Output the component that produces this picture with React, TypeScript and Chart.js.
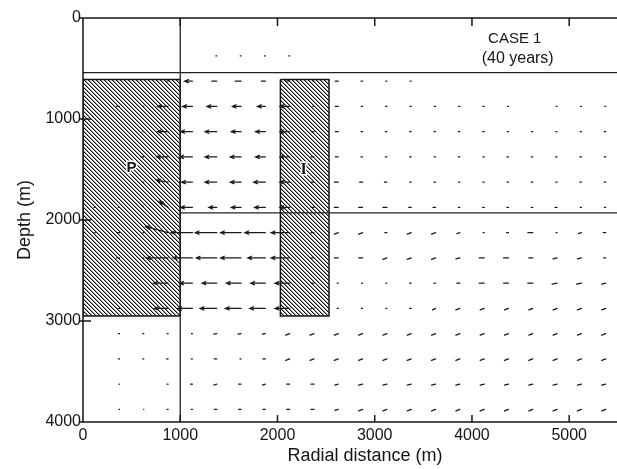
import React, { useEffect, useRef } from 'react';
import { Chart, registerables } from 'chart.js';

Chart.register(...registerables);

// ---- grid of the velocity field (m) ----
const radialCenters = [125, 375, 625, 875, 1125, 1375, 1625, 1875, 2125, 2375, 2625, 2875, 3125, 3375, 3625, 3875, 4125, 4375, 4625, 4875, 5125, 5375];
const depthCenters = [125, 375, 625, 875, 1125, 1375, 1625, 1875, 2125, 2375, 2625, 2875, 3125, 3375, 3625, 3875];

// radial component of each arrow (arrow length in m, negative = toward the producer)
const radialComponent = [
  [0, 0, 0, 0, 0, 0, 0, 0, 0, 0, 0, 0, 0, 0, 0, 0, 0, 0, 0, 0, 0, 0],
  [0, 0, 0, 0, 0, -8, -8, -8, -8, 0, 0, 0, 0, 0, 0, 0, 0, 0, 0, 0, 0, 0],
  [0, 0, 0, -10, -80, -50, -60, -40, -40, -10, -30, -15, -10, -10, 0, 0, 0, 0, 0, 0, 0, 0],
  [0, -30, -10, -110, -100, -100, -90, -80, -100, -10, -30, -12, -12, -12, -12, -12, -12, -8, 0, -8, -8, -8],
  [0, 0, -10, -110, -120, -120, -100, -100, -100, -30, -30, -15, -15, -15, -15, -15, -15, -12, -12, -12, -12, -15],
  [0, 0, -30, -120, -130, -120, -110, -100, -100, -30, -30, -15, -15, -15, -15, -15, -12, -15, -15, -15, -15, -15],
  [0, 0, -15, -120, -110, -120, -110, -120, -100, -30, -40, -30, -25, -15, -15, -12, -12, -15, -15, -12, -15, -15],
  [-10, -10, -20, -90, -120, -80, -100, -110, -100, -30, -40, -40, -40, -25, -25, -15, -15, -15, -15, -20, -12, -12],
  [-10, -30, -8, -230, -220, -220, -210, -210, -190, -30, -40, -40, -20, -40, -40, -30, -10, -20, -50, -10, -30, -25],
  [0, -30, -10, -220, -200, -210, -210, -180, -190, -30, -40, -40, -40, -40, -40, -40, -50, -50, -40, -40, -40, -20],
  [0, -10, 0, -150, -130, -150, -150, -150, -150, -30, -10, -10, -10, -15, -15, -30, -50, -50, -50, -50, -50, -40],
  [0, -10, 0, -140, -150, -170, -160, -160, -150, -30, -10, -10, -10, -15, -30, -40, -40, -40, -40, -40, -40, -40],
  [0, -10, -10, -10, -10, -30, -30, -30, -40, -40, -40, -40, -40, -40, -40, -40, -40, -40, -40, -40, -40, -40],
  [0, -10, -10, -15, -10, -25, -10, -25, -40, -40, -40, -40, -40, -40, -40, -40, -40, -40, -40, -40, -40, -40],
  [0, -5, 0, -10, -20, -30, -25, -30, -30, -30, -35, -40, -40, -40, -40, -40, -40, -40, -40, -40, -40, -40],
  [0, -5, -5, -10, -10, -25, -25, -25, -30, -30, -35, -40, -40, -40, -40, -40, -40, -40, -40, -40, -40, -40],
];

// vertical component of each arrow (m, positive = deeper)
const verticalComponent = [
  [0, 0, 0, 0, 0, 0, 0, 0, 0, 0, 0, 0, 0, 0, 0, 0, 0, 0, 0, 0, 0, 0],
  [0, 0, 0, 0, 0, 0, 0, 0, 0, 0, 0, 0, 0, 0, 0, 0, 0, 0, 0, 0, 0, 0],
  [0, 0, 0, 0, 0, 0, 0, 0, 0, 0, 0, 0, 0, 0, 0, 0, 0, 0, 0, 0, 0, 0],
  [0, 0, 0, 0, 0, 0, 0, 0, 0, 0, 0, 0, 0, 0, 0, 0, 0, 0, 0, 0, 0, 0],
  [0, 0, 0, 0, 0, 0, 0, 0, 0, 0, 0, 0, 0, 0, 0, 0, 0, 0, 0, 0, 0, 0],
  [0, 0, 0, 0, 0, 0, 0, 0, 0, 0, 0, 0, 0, 0, 0, 0, 0, 0, 0, 0, 0, 0],
  [0, 0, 0, -20, 0, 0, 0, 0, 0, 0, 0, 0, 0, 0, 0, 0, 0, 0, 0, 0, 0, 0],
  [0, 0, -20, -60, 0, 0, 0, 0, 0, 0, 0, 0, 0, 0, 0, 0, 0, 0, 0, 0, 0, 0],
  [0, 0, 0, -60, 0, 0, 0, 0, 0, 0, 15, 15, 0, 15, 15, 10, 0, 0, 0, 0, 10, 0],
  [0, 0, 0, 0, 0, 0, 0, 0, 0, 0, 0, 0, 15, 15, 15, 10, 0, 0, 0, 10, 10, 0],
  [0, 0, 0, 0, 0, 0, 0, 0, 0, 0, 0, 0, 0, 0, 0, 0, 0, 0, 0, 10, 10, 10],
  [0, 0, 0, 0, 0, 0, 0, 0, 0, 0, 0, 0, 0, 0, 15, 15, 15, 15, 15, 15, 15, 15],
  [0, 0, 0, 0, 0, 5, 5, 5, 15, 15, 15, 15, 15, 15, 15, 15, 15, 15, 15, 15, 15, 15],
  [0, 0, 0, 0, 0, 0, 0, 0, 15, 15, 15, 15, 15, 15, 15, 15, 15, 15, 15, 15, 15, 15],
  [0, 0, 0, 0, 0, 10, 0, 10, 0, 0, 10, 10, 10, 10, 10, 10, 10, 10, 10, 10, 10, 10],
  [0, 0, 0, 0, 0, 0, 0, 0, 0, 0, 10, 15, 15, 15, 15, 15, 15, 15, 15, 15, 15, 15],
];

// ---- zones and layer boundaries (m) ----
const producerRadial = [0, 1000];
const producerDepth = [610, 2950];
const injectorRadial = [2030, 2530];
const injectorDepth = [610, 2950];
const caprockDepth = 540;
const layerDepth = 1930;
const layerStartRadial = 1000;
const wellZoneRadial = 1000;

// ---- axes ----
const xTickValues = [0, 1000, 2000, 3000, 4000, 5000];
const yTickValues = [0, 1000, 2000, 3000, 4000];
const xMax = 5800;
const yMax = 4000;

const FONT = '"Liberation Sans", Arial, sans-serif';

function makeHatch(ctx: CanvasRenderingContext2D) {
  const s = 4;
  const c = document.createElement('canvas');
  c.width = s;
  c.height = s;
  const g = c.getContext('2d')!;
  g.fillStyle = '#ffffff';
  g.fillRect(0, 0, s, s);
  g.fillStyle = 'rgba(20,20,20,1)';
  for (let i = 0; i < s; i++) g.fillRect(i, i, 1, 1);
  g.fillStyle = 'rgba(20,20,20,0.45)';
  for (let i = 0; i < s; i++) g.fillRect((i + 1) % s, i, 1, 1);
  return ctx.createPattern(c, 'repeat')!;
}

function rect(r: number[], z: number[]) {
  return [
    { x: r[0], y: z[0] },
    { x: r[1], y: z[0] },
    { x: r[1], y: z[1] },
    { x: r[0], y: z[1] },
    { x: r[0], y: z[0] },
  ];
}

function buildVectors() {
  const pts: { x: number; y: number | null }[] = [];
  depthCenters.forEach((z, i) => {
    radialCenters.forEach((r, j) => {
      const u = radialComponent[i][j];
      const w = verticalComponent[i][j];
      const len = Math.hypot(u, w);
      if (len === 0) return;
      const hx = r + u;
      const hy = z + w;
      pts.push({ x: r, y: z }, { x: hx, y: hy }, { x: hx, y: null });
      if (len >= 70) {
        const dx = u / len;
        const dy = w / len;
        const L = 38;
        const W = 16;
        pts.push(
          { x: hx - L * dx - W * dy, y: hy - L * dy + W * dx },
          { x: hx, y: hy },
          { x: hx - L * dx + W * dy, y: hy - L * dy - W * dx },
          { x: hx, y: null }
        );
      }
    });
  });
  return pts;
}

const framePlugin = {
  id: 'frame',
  afterDatasetsDraw(chart: any) {
    const { ctx, chartArea, scales } = chart;
    const { left, right, top, bottom } = chartArea;
    const x = scales.x;
    const y = scales.y;
    ctx.save();
    ctx.strokeStyle = '#151515';
    ctx.lineWidth = 1.5;
    ctx.beginPath();
    ctx.moveTo(right, top);
    ctx.lineTo(left, top);
    ctx.lineTo(left, bottom);
    ctx.lineTo(right, bottom);
    for (const v of yTickValues) {
      const py = y.getPixelForValue(v);
      ctx.moveTo(left - 3, py);
      ctx.lineTo(left + 8, py);
    }
    for (const v of xTickValues.slice(1)) {
      const px = x.getPixelForValue(v);
      ctx.moveTo(px, top);
      ctx.lineTo(px, top + 8);
      ctx.moveTo(px, bottom);
      ctx.lineTo(px, bottom - 7);
    }
    ctx.stroke();
    ctx.restore();
  },
};

const labelPlugin = {
  id: 'labels',
  afterDatasetsDraw(chart: any, _args: any, opts: any) {
    const { ctx, scales } = chart;
    ctx.save();
    ctx.textAlign = 'center';
    ctx.textBaseline = 'middle';
    for (const a of opts.items) {
      ctx.font = a.font;
      const px = scales.x.getPixelForValue(a.x);
      const py = scales.y.getPixelForValue(a.y);
      if (a.halo) {
        ctx.strokeStyle = '#ffffff';
        ctx.lineWidth = 3;
        ctx.lineJoin = 'round';
        ctx.strokeText(a.text, px, py);
      }
      ctx.fillStyle = '#151515';
      ctx.fillText(a.text, px, py);
    }
    ctx.restore();
  },
};

export default function App() {
  const ref = useRef<HTMLCanvasElement>(null);
  useEffect(() => {
    const canvas = ref.current!;
    const ctx = canvas.getContext('2d')!;
    const hatch = makeHatch(ctx);
    const lineBase = { pointRadius: 0, tension: 0, spanGaps: false, fill: false };
    const chart = new Chart(ctx, {
      type: 'line',
      data: {
        datasets: [
          {
            ...lineBase,
            label: 'velocity',
            data: buildVectors(),
            borderColor: '#1a1a1a',
            borderWidth: 1.3,
            borderCapStyle: 'round',
            order: 0,
          } as any,
          {
            ...lineBase,
            label: 'boundaries',
            data: [
              { x: 0, y: caprockDepth },
              { x: xMax, y: caprockDepth },
              { x: xMax, y: null },
              { x: layerStartRadial, y: layerDepth },
              { x: xMax, y: layerDepth },
              { x: xMax, y: null },
              { x: wellZoneRadial, y: 0 },
              { x: wellZoneRadial, y: yMax },
            ],
            borderColor: '#222',
            borderWidth: 1.3,
            order: 1,
          } as any,
          {
            ...lineBase,
            label: 'P',
            data: rect(producerRadial, producerDepth),
            fill: 'shape',
            backgroundColor: hatch,
            borderColor: '#151515',
            borderWidth: 1.5,
            order: 2,
          } as any,
          {
            ...lineBase,
            label: 'I',
            data: rect(injectorRadial, injectorDepth),
            fill: 'shape',
            backgroundColor: hatch,
            borderColor: '#151515',
            borderWidth: 1.5,
            order: 2,
          } as any,
        ],
      },
      options: {
        responsive: false,
        animation: false,
        events: [],
        layout: { padding: { top: 18, left: 0, right: 0, bottom: 0 } },
        plugins: {
          legend: { display: false },
          tooltip: { enabled: false },
          labels: {
            items: [
              { text: 'P', x: 500, y: 1480, font: `bold 15px ${FONT}`, halo: true },
              { text: 'I', x: 2270, y: 1500, font: `bold 16px "Liberation Serif", serif`, halo: true },
              { text: 'CASE 1', x: 4440, y: 210, font: `15px ${FONT}` },
              { text: '(40 years)', x: 4470, y: 400, font: `16px ${FONT}` },
            ],
          },
        } as any,
        scales: {
          x: {
            type: 'linear',
            min: 0,
            max: xMax,
            afterFit: (s: any) => {
              s.height = 47;
            },
            afterBuildTicks: (s: any) => {
              s.ticks = xTickValues.map((v) => ({ value: v }));
            },
            grid: { display: false, drawTicks: false },
            border: { display: false },
            ticks: {
              color: '#151515',
              font: { family: FONT, size: 16 },
              padding: 4,
              maxRotation: 0,
              autoSkip: false,
              callback: (v: any) => String(v),
            },
            title: {
              display: true,
              text: 'Radial distance (m)',
              color: '#151515',
              font: { family: FONT, size: 18 },
              padding: { top: 0, bottom: 2 },
            },
          },
          y: {
            type: 'linear',
            reverse: true,
            min: 0,
            max: yMax,
            afterFit: (s: any) => {
              s.width = 83;
            },
            afterBuildTicks: (s: any) => {
              s.ticks = yTickValues.map((v) => ({ value: v }));
            },
            grid: { display: false, drawTicks: false },
            border: { display: false },
            ticks: {
              color: '#151515',
              font: { family: FONT, size: 16 },
              padding: 2,
              autoSkip: false,
              callback: (v: any) => String(v),
            },
            title: {
              display: true,
              text: 'Depth (m)',
              color: '#151515',
              font: { family: FONT, size: 18 },
              padding: { top: 14, bottom: 0 },
            },
          },
        },
      },
      plugins: [framePlugin, labelPlugin],
    } as any);
    return () => chart.destroy();
  }, []);

  return (
    <div
      style={{
        position: 'fixed',
        left: 0,
        top: 0,
        width: 617,
        height: 469,
        overflow: 'hidden',
        background: '#ffffff',
      }}
    >
      <canvas ref={ref} width={647} height={469} style={{ display: 'block' }} />
    </div>
  );
}
